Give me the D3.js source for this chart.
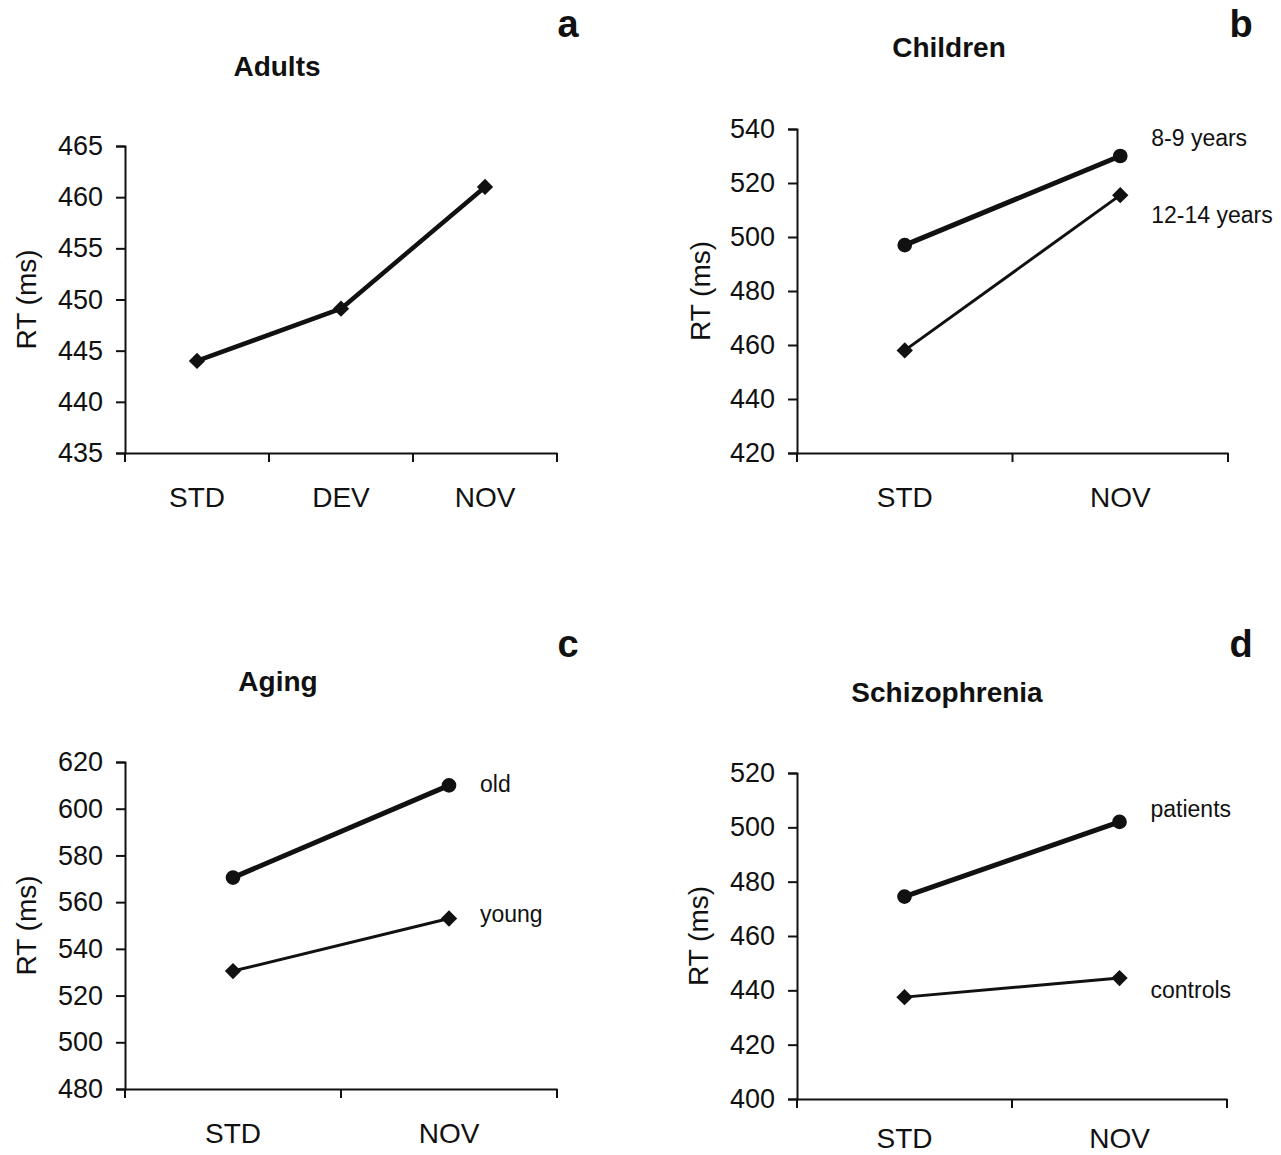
<!DOCTYPE html>
<html>
<head>
<meta charset="utf-8">
<script src="https://cdn.jsdelivr.net/npm/d3@7"></script>
<style>
  body { margin: 0; background: #fff; }
  svg { display: block; }
  text { font-family: "Liberation Sans", Arial, sans-serif; fill: #111; }
</style>
</head>
<body>
<svg id="svg" width="1281" height="1155"></svg>
<script>
// Panel a - adults
var adultsCats = ["STD", "DEV", "NOV"];
var adultsRT = [444, 449.1, 461];
var adultsTicks = [435, 440, 445, 450, 455, 460, 465];

// Panel b - children
var childCats = ["STD", "NOV"];
var child89 = [497, 530];
var child1214 = [458, 515.5];
var childTicks = [420, 440, 460, 480, 500, 520, 540];

// Panel c - aging
var agingCats = ["STD", "NOV"];
var agingOld = [570.5, 610];
var agingYoung = [530.5, 553];
var agingTicks = [480, 500, 520, 540, 560, 580, 600, 620];

// Panel d - schizophrenia
var schizCats = ["STD", "NOV"];
var schizPatients = [474.5, 502];
var schizControls = [437.5, 444.5];
var schizTicks = [400, 420, 440, 460, 480, 500, 520];

var svg = d3.select("svg");

// one panel: box in page pixels, y domain from tick list, series list
function drawPanel(p) {
    var g = svg.append("g");

    var x = d3.scaleBand()
        .domain(p.cats)
        .range([p.left, p.right])
        .padding(0);

    var y = d3.scaleLinear()
        .domain(d3.extent(p.ticks))
        .range([p.bottom, p.top]);

    // y axis
    var yAxis = g.append("g")
        .attr("transform", "translate(" + p.left + ",0)")
        .call(d3.axisLeft(y).tickValues(p.ticks).tickSize(9).tickPadding(13).tickFormat(d3.format("d")));
    yAxis.select(".domain").attr("stroke", "#111").attr("stroke-width", 2);
    yAxis.selectAll(".tick line").attr("stroke", "#111").attr("stroke-width", 2);
    yAxis.selectAll(".tick text")
        .attr("font-size", 27)
        .attr("font-family", "Liberation Sans, Arial, sans-serif")
        .attr("fill", "#111");

    // x axis: labels centred in bands, ticks at band edges
    var xAxis = g.append("g")
        .attr("transform", "translate(0," + p.bottom + ")")
        .call(d3.axisBottom(x).tickSize(0).tickPadding(p.xPad || 34).tickSizeOuter(0));
    xAxis.select(".domain").attr("stroke", "#111").attr("stroke-width", 2);
    xAxis.selectAll(".tick text")
        .attr("font-size", 28)
        .attr("font-family", "Liberation Sans, Arial, sans-serif")
        .attr("fill", "#111");

    var edges = p.cats.map(function(c) { return x(c); }).concat([x.range()[1]]);
    g.selectAll(".edge")
        .data(edges)
        .enter().append("line")
        .attr("x1", function(d) { return d; })
        .attr("x2", function(d) { return d; })
        .attr("y1", p.bottom)
        .attr("y2", p.bottom + 9)
        .attr("stroke", "#111")
        .attr("stroke-width", 2);

    // y label
    g.append("text")
        .attr("transform", "translate(" + p.ylabX + "," + ((p.top + p.bottom) / 2) + ") rotate(-90)")
        .attr("text-anchor", "middle")
        .attr("dy", "0.35em")
        .attr("font-size", 28)
        .text("RT (ms)");

    // title and panel letter
    g.append("text")
        .attr("x", p.titleX).attr("y", p.titleY)
        .attr("text-anchor", "middle")
        .attr("font-size", 28).attr("font-weight", "bold")
        .text(p.title);
    g.append("text")
        .attr("x", p.letterX).attr("y", p.letterY)
        .attr("text-anchor", "middle")
        .attr("font-size", 38).attr("font-weight", "bold")
        .text(p.letter);

    var line = d3.line()
        .x(function(d, i) { return x(p.cats[i]) + x.bandwidth() / 2; })
        .y(function(d) { return y(d); });

    p.series.forEach(function(s) {
        g.append("path")
            .datum(s.values)
            .attr("d", line)
            .attr("fill", "none")
            .attr("stroke", "#111")
            .attr("stroke-width", s.width)
            .attr("stroke-linejoin", "round");

        var sym = d3.symbol().type(s.marker === "circle" ? d3.symbolCircle : d3.symbolDiamond2).size(170);
        g.selectAll(null)
            .data(s.values)
            .enter().append("path")
            .attr("d", sym)
            .attr("transform", function(d, i) {
                return "translate(" + (x(p.cats[i]) + x.bandwidth() / 2) + "," + y(d) + ")";
            })
            .attr("fill", "#111");

        if (s.label) {
            var last = s.values.length - 1;
            g.append("text")
                .attr("x", x(p.cats[last]) + x.bandwidth() / 2 + 31)
                .attr("y", y(s.values[last]) + s.labelDy)
                .attr("dy", "0.35em")
                .attr("font-size", 23)
                .text(s.label);
        }
    });
}

drawPanel({
    cats: adultsCats, ticks: adultsTicks,
    left: 125, right: 557, top: 146, bottom: 453,
    ylabX: 26, title: "Adults", titleX: 277, titleY: 76,
    letter: "a", letterX: 568, letterY: 37,
    series: [{ values: adultsRT, width: 4.5, marker: "diamond" }]
});

drawPanel({
    cats: childCats, ticks: childTicks,
    left: 797, right: 1228, top: 129, bottom: 453,
    ylabX: 700, title: "Children", titleX: 949, titleY: 57,
    letter: "b", letterX: 1241, letterY: 37,
    series: [
        { values: child89, width: 5, marker: "circle", label: "8-9 years", labelDy: -18 },
        { values: child1214, width: 3, marker: "diamond", label: "12-14 years", labelDy: 20 }
    ]
});

drawPanel({
    cats: agingCats, ticks: agingTicks,
    left: 125, right: 557, top: 762, bottom: 1089,
    ylabX: 26, title: "Aging", titleX: 278, titleY: 691,
    letter: "c", letterX: 568, letterY: 657,
    series: [
        { values: agingOld, width: 5, marker: "circle", label: "old", labelDy: -1 },
        { values: agingYoung, width: 3, marker: "diamond", label: "young", labelDy: -5 }
    ]
});

drawPanel({
    cats: schizCats, ticks: schizTicks,
    left: 797, right: 1227, top: 773, bottom: 1099, xPad: 29,
    ylabX: 698, title: "Schizophrenia", titleX: 947, titleY: 702,
    letter: "d", letterX: 1241, letterY: 657,
    series: [
        { values: schizPatients, width: 5, marker: "circle", label: "patients", labelDy: -13 },
        { values: schizControls, width: 3, marker: "diamond", label: "controls", labelDy: 12 }
    ]
});
</script>
</body>
</html>
